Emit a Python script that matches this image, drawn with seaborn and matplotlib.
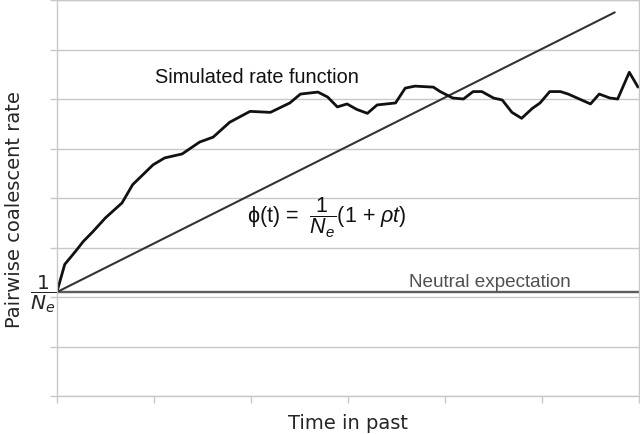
import matplotlib
matplotlib.use("Agg")
import matplotlib.pyplot as plt
import seaborn as sns
import pandas as pd

# -----------------------------
# Data
# -----------------------------
sim_time = [0.0, 0.08, 0.19, 0.27, 0.37, 0.50, 0.67, 0.78, 0.99, 1.11,
            1.29, 1.47, 1.61, 1.78, 1.99, 2.20, 2.40, 2.51, 2.69, 2.79,
            2.89, 2.99, 3.09, 3.20, 3.30, 3.49, 3.59, 3.69, 3.88, 3.95,
            4.08, 4.19, 4.29, 4.38, 4.50, 4.59, 4.69, 4.79, 4.90, 4.98,
            5.08, 5.19, 5.27, 5.50, 5.59, 5.70, 5.78, 5.90, 5.99]
sim_rate = [2.11, 2.66, 2.92, 3.12, 3.32, 3.60, 3.90, 4.27, 4.67, 4.81,
            4.89, 5.13, 5.23, 5.53, 5.75, 5.73, 5.92, 6.10, 6.14, 6.04,
            5.84, 5.90, 5.79, 5.71, 5.88, 5.92, 6.22, 6.26, 6.24, 6.15,
            6.02, 6.00, 6.15, 6.15, 6.02, 5.98, 5.73, 5.61, 5.81, 5.92,
            6.15, 6.15, 6.10, 5.90, 6.10, 6.02, 6.00, 6.54, 6.24]

linear_time = [0.0, 5.75]
linear_rate = [2.1, 7.75]

neutral_time = [0.0, 6.0]
neutral_rate = [2.1, 2.1]

x_ticks = [0, 1, 2, 3, 4, 5, 6]
y_ticks = [0, 1, 2, 3, 4, 5, 6, 7, 8]

# -----------------------------
# Style
# -----------------------------
sns.set_style("white")
plt.rcParams["font.family"] = ["Liberation Sans", "DejaVu Sans"]
plt.rcParams["mathtext.fontset"] = "custom"
plt.rcParams["mathtext.rm"] = "Liberation Sans"
plt.rcParams["mathtext.it"] = "Liberation Sans:italic"
plt.rcParams["mathtext.bf"] = "Liberation Sans:bold"

GRID = "#c8c8c8"

fig = plt.figure(figsize=(6.4, 4.35), dpi=100)
ax = fig.add_axes([57 / 640, 1 - 397 / 435, 582 / 640, 396 / 435])

sim_df = pd.DataFrame({"time": sim_time, "rate": sim_rate})
lin_df = pd.DataFrame({"time": linear_time, "rate": linear_rate})
neu_df = pd.DataFrame({"time": neutral_time, "rate": neutral_rate})

sns.lineplot(data=neu_df, x="time", y="rate", ax=ax, color="#5c5c5c", lw=1.7)
sns.lineplot(data=lin_df, x="time", y="rate", ax=ax, color="#333333", lw=1.5)
sns.lineplot(data=sim_df, x="time", y="rate", ax=ax, color="#111111", lw=2.0)

ax.set_xlim(0, 6)
ax.set_ylim(0, 8)
ax.set_xticks(x_ticks)
ax.set_yticks(y_ticks)
ax.set_xticklabels([])
ax.set_yticklabels([])
ax.grid(axis="y", color=GRID, lw=1)
ax.set_axisbelow(True)
ax.tick_params(axis="both", direction="out", length=5, width=1, color=GRID,
               bottom=True, left=True)
for side in ["left", "bottom", "right", "top"]:
    ax.spines[side].set_color(GRID)
    ax.spines[side].set_linewidth(1)

ax.set_xlabel("Time in past", family="DejaVu Sans", fontsize=14)
ax.set_ylabel("Pairwise coalescent rate", family="DejaVu Sans", fontsize=14)
ax.xaxis.set_label_coords(0.5, -0.043)
ax.yaxis.set_label_coords(-0.057, 0.474)

# annotations
ax.text(1.01, 6.34, "Simulated rate function", fontsize=14.3, color="#111111",
        va="baseline")
ax.text(3.63, 2.23, "Neutral expectation", fontsize=13.6, color="#505050",
        va="baseline")
ax.text(1.96, 3.62, r"ϕ(t) =  $\dfrac{1}{N_e}$(1 + $\rho t$)", fontsize=15.5,
        color="#111111", va="center")
ax.text(-0.01, 2.08, r"$\dfrac{1}{N_e}$", fontsize=14.5, ha="right", va="center",
        math_fontfamily="dejavusans", clip_on=False)

fig.savefig("out.png", dpi=100)
plt.close(fig)
